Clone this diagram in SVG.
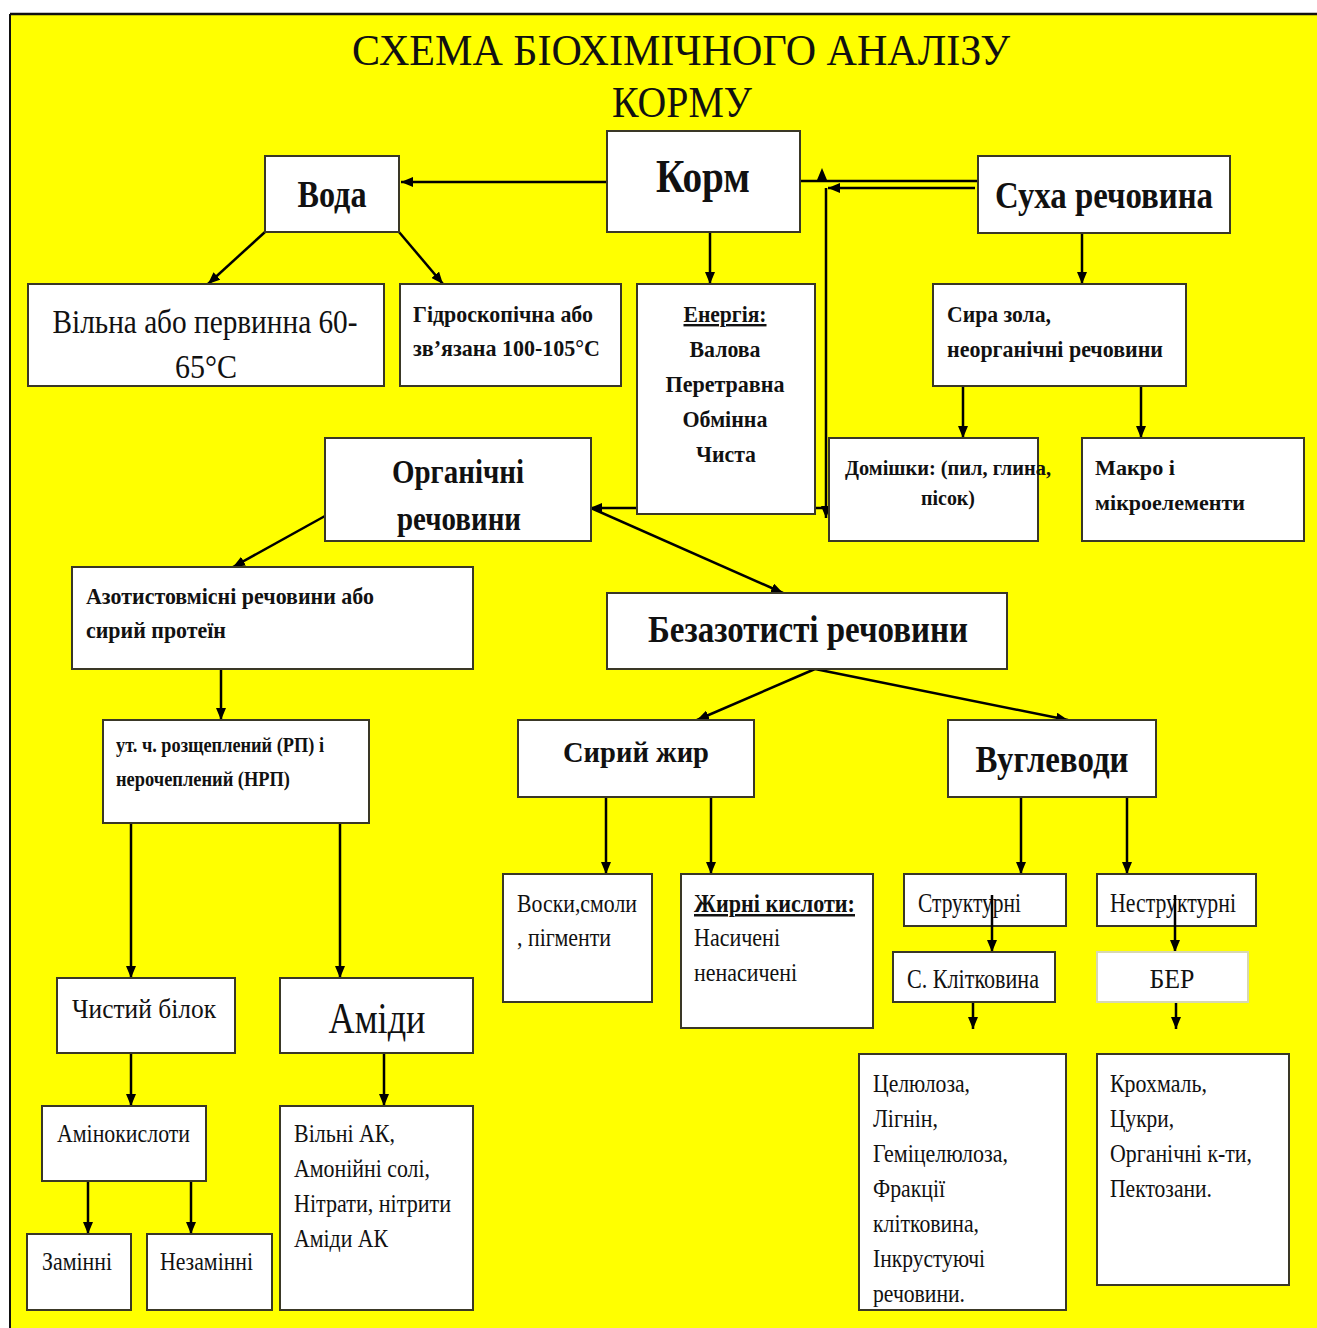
<svg xmlns="http://www.w3.org/2000/svg" width="1317" height="1328" viewBox="0 0 1317 1328">
<style>
.bx{fill:#fff;stroke:#3a3826;stroke-width:2}
.t{font-family:"Liberation Serif","Times New Roman",serif;fill:#111}
.b{font-weight:bold}
.ln{fill:none;stroke:#000;stroke-width:2.5}
</style>
<defs>
<marker id="ah" viewBox="0 0 12 10" refX="12" refY="5" markerWidth="12" markerHeight="10" orient="auto" markerUnits="userSpaceOnUse"><path d="M0,0 L12,5 L0,10 z" fill="#000"/></marker>
</defs>
<rect x="0" y="0" width="1317" height="1328" fill="#fff"/>
<rect x="10" y="14" width="1307" height="1314" fill="#ffff00"/>
<line x1="10" y1="14" x2="1317" y2="14" stroke="#111" stroke-width="2.5"/>
<line x1="10" y1="14" x2="10" y2="1328" stroke="#111" stroke-width="2"/>
<g id="title">
<text class="t" x="681" y="65" font-size="44" text-anchor="middle" textLength="658" lengthAdjust="spacingAndGlyphs">СХЕМА БІОХІМІЧНОГО АНАЛІЗУ</text>
<text class="t" x="682" y="117" font-size="44" text-anchor="middle" textLength="140" lengthAdjust="spacingAndGlyphs">КОРМУ</text>
</g>
<g id="connectors">
<path class="ln" d="M607,182 L401,182" marker-end="url(#ah)"/>
<path class="ln" d="M800,181 L990,181" marker-end="url(#ah)"/>
<path class="ln" d="M975,188 L828,188" marker-end="url(#ah)"/>
<path class="ln" d="M826,188 L826,518" marker-end="url(#ah)"/>
<path class="ln" d="M826,508 L590,508" marker-end="url(#ah)"/>
<polygon points="822,168 817,180 827,180" fill="#000"/>
<path class="ln" d="M265,232 L208,284" marker-end="url(#ah)"/>
<path class="ln" d="M399,232 L443,284" marker-end="url(#ah)"/>
<path class="ln" d="M710,232 L710,284" marker-end="url(#ah)"/>
<path class="ln" d="M1082,233 L1082,284" marker-end="url(#ah)"/>
<path class="ln" d="M963,386 L963,438" marker-end="url(#ah)"/>
<path class="ln" d="M1141,386 L1141,438" marker-end="url(#ah)"/>
<path class="ln" d="M325,516 L233,567" marker-end="url(#ah)"/>
<path class="ln" d="M591,508 L783,593" marker-end="url(#ah)"/>
<path class="ln" d="M221,669 L221,720" marker-end="url(#ah)"/>
<path class="ln" d="M815,669 L697,720" marker-end="url(#ah)"/>
<path class="ln" d="M815,669 L1068,720" marker-end="url(#ah)"/>
<path class="ln" d="M606,797 L606,874" marker-end="url(#ah)"/>
<path class="ln" d="M711,797 L711,874" marker-end="url(#ah)"/>
<path class="ln" d="M1021,797 L1021,874" marker-end="url(#ah)"/>
<path class="ln" d="M1127,797 L1127,874" marker-end="url(#ah)"/>
<path class="ln" d="M131,823 L131,978" marker-end="url(#ah)"/>
<path class="ln" d="M340,823 L340,978" marker-end="url(#ah)"/>
<path class="ln" d="M131,1053 L131,1106" marker-end="url(#ah)"/>
<path class="ln" d="M384,1053 L384,1106" marker-end="url(#ah)"/>
<path class="ln" d="M88,1181 L88,1234" marker-end="url(#ah)"/>
<path class="ln" d="M191,1181 L191,1234" marker-end="url(#ah)"/>
</g>
<g id="n-korm"><rect class="bx" x="607" y="131" width="193" height="101"/><text class="t b" x="703" y="192" font-size="46" text-anchor="middle" textLength="94" lengthAdjust="spacingAndGlyphs">Корм</text></g>
<g id="n-voda"><rect class="bx" x="265" y="156" width="134" height="76"/><text class="t b" x="332" y="207" font-size="38" text-anchor="middle" textLength="69" lengthAdjust="spacingAndGlyphs">Вода</text></g>
<g id="n-sukha"><rect class="bx" x="978" y="156" width="252" height="77"/><text class="t b" x="1104" y="208" font-size="38" text-anchor="middle" textLength="218" lengthAdjust="spacingAndGlyphs">Суха речовина</text></g>
<g id="n-vilna"><rect class="bx" x="28" y="284" width="356" height="102"/>
<text class="t" x="205" y="333" font-size="33" text-anchor="middle" textLength="305" lengthAdjust="spacingAndGlyphs">Вільна або первинна 60-</text>
<text class="t" x="206" y="378" font-size="33" text-anchor="middle" textLength="62" lengthAdjust="spacingAndGlyphs">65°C</text></g>
<g id="n-gidro"><rect class="bx" x="400" y="284" width="221" height="102"/>
<text class="t b" x="413" y="322" font-size="24" textLength="180" lengthAdjust="spacingAndGlyphs">Гідроскопічна або</text>
<text class="t b" x="413" y="356" font-size="24" textLength="187" lengthAdjust="spacingAndGlyphs">зв’язана 100-105°C</text></g>
<g id="n-energy"><rect class="bx" x="637" y="284" width="178" height="230"/>
<text class="t b" x="725" y="322" font-size="24" text-anchor="middle" text-decoration="underline" textLength="83" lengthAdjust="spacingAndGlyphs">Енергія:</text>
<text class="t b" x="725" y="357" font-size="24" text-anchor="middle" textLength="71" lengthAdjust="spacingAndGlyphs">Валова</text>
<text class="t b" x="725" y="392" font-size="24" text-anchor="middle" textLength="119" lengthAdjust="spacingAndGlyphs">Перетравна</text>
<text class="t b" x="725" y="427" font-size="24" text-anchor="middle" textLength="85" lengthAdjust="spacingAndGlyphs">Обмінна</text>
<text class="t b" x="726" y="462" font-size="24" text-anchor="middle" textLength="60" lengthAdjust="spacingAndGlyphs">Чиста</text></g>
<g id="n-zola"><rect class="bx" x="933" y="284" width="253" height="102"/>
<text class="t b" x="947" y="322" font-size="24" textLength="104" lengthAdjust="spacingAndGlyphs">Сира зола,</text>
<text class="t b" x="947" y="357" font-size="24" textLength="216" lengthAdjust="spacingAndGlyphs">неорганічні речовини</text></g>
<g id="n-organ"><rect class="bx" x="325" y="438" width="266" height="103"/>
<text class="t b" x="458" y="483" font-size="33" text-anchor="middle" textLength="132" lengthAdjust="spacingAndGlyphs">Органічні</text>
<text class="t b" x="459" y="530" font-size="33" text-anchor="middle" textLength="124" lengthAdjust="spacingAndGlyphs">речовини</text></g>
<g id="n-domishky"><rect class="bx" x="829" y="438" width="209" height="103"/>
<text class="t b" x="948" y="475" font-size="22" text-anchor="middle" textLength="206" lengthAdjust="spacingAndGlyphs">Домішки: (пил, глина,</text>
<text class="t b" x="948" y="505" font-size="22" text-anchor="middle" textLength="54" lengthAdjust="spacingAndGlyphs">пісок)</text></g>
<g id="n-makro"><rect class="bx" x="1082" y="438" width="222" height="103"/>
<text class="t b" x="1095" y="475" font-size="22" textLength="80" lengthAdjust="spacingAndGlyphs">Макро і</text>
<text class="t b" x="1095" y="510" font-size="22" textLength="150" lengthAdjust="spacingAndGlyphs">мікроелементи</text></g>
<g id="n-azot"><rect class="bx" x="72" y="567" width="401" height="102"/>
<text class="t b" x="86" y="604" font-size="23" textLength="288" lengthAdjust="spacingAndGlyphs">Азотистовмісні речовини або</text>
<text class="t b" x="86" y="638" font-size="23" textLength="140" lengthAdjust="spacingAndGlyphs">сирий протеїн</text></g>
<g id="n-bezazot"><rect class="bx" x="607" y="593" width="400" height="76"/>
<text class="t b" x="808" y="642" font-size="38" text-anchor="middle" textLength="320" lengthAdjust="spacingAndGlyphs">Безазотисті речовини</text></g>
<g id="n-ut"><rect class="bx" x="103" y="720" width="266" height="103"/>
<text class="t b" x="116" y="752" font-size="20" textLength="208" lengthAdjust="spacingAndGlyphs">ут. ч. розщеплений (РП) і</text>
<text class="t b" x="116" y="786" font-size="20" textLength="174" lengthAdjust="spacingAndGlyphs">нерочеплений (НРП)</text></g>
<g id="n-zhyr"><rect class="bx" x="518" y="720" width="236" height="77"/>
<text class="t b" x="636" y="762" font-size="30" text-anchor="middle" textLength="146" lengthAdjust="spacingAndGlyphs">Сирий жир</text></g>
<g id="n-vuhl"><rect class="bx" x="948" y="720" width="208" height="77"/>
<text class="t b" x="1052" y="772" font-size="38" text-anchor="middle" textLength="153" lengthAdjust="spacingAndGlyphs">Вуглеводи</text></g>
<g id="n-vosky"><rect class="bx" x="503" y="874" width="149" height="128"/>
<text class="t" x="517" y="912" font-size="25" textLength="120" lengthAdjust="spacingAndGlyphs">Воски,смоли</text>
<text class="t" x="517" y="946" font-size="25" textLength="94" lengthAdjust="spacingAndGlyphs">, пігменти</text></g>
<g id="n-kysloty"><rect class="bx" x="681" y="874" width="192" height="154"/>
<text class="t b" x="694" y="912" font-size="25" text-decoration="underline" textLength="161" lengthAdjust="spacingAndGlyphs">Жирні кислоти:</text>
<text class="t" x="694" y="946" font-size="25" textLength="86" lengthAdjust="spacingAndGlyphs">Насичені</text>
<text class="t" x="694" y="981" font-size="25" textLength="103" lengthAdjust="spacingAndGlyphs">ненасичені</text></g>
<g id="n-struct"><rect class="bx" x="904" y="874" width="162" height="52"/>
<text class="t" x="918" y="912" font-size="27" textLength="103" lengthAdjust="spacingAndGlyphs">Структурні</text></g>
<g id="n-nestruct"><rect class="bx" x="1097" y="874" width="159" height="52"/>
<text class="t" x="1110" y="912" font-size="27" textLength="126" lengthAdjust="spacingAndGlyphs">Неструктурні</text></g>
<g id="connectors-inner">
<path class="ln" d="M992,895 L992,952" marker-end="url(#ah)"/>
<path class="ln" d="M1175,895 L1175,952" marker-end="url(#ah)"/>
<path class="ln" d="M973,1002 L973,1029" marker-end="url(#ah)"/>
<path class="ln" d="M1176,1002 L1176,1029" marker-end="url(#ah)"/>
</g>
<g id="n-klitk"><rect class="bx" x="893" y="952" width="162" height="50"/>
<text class="t" x="973" y="988" font-size="27" text-anchor="middle" textLength="132" lengthAdjust="spacingAndGlyphs">С. Клітковина</text></g>
<g id="n-ber"><rect x="1097" y="952" width="151" height="50" fill="#fff" stroke="#d8d8b0" stroke-width="2"/>
<text class="t" x="1172" y="988" font-size="27" text-anchor="middle" textLength="45" lengthAdjust="spacingAndGlyphs">БЕР</text></g>
<g id="n-cel"><rect class="bx" x="859" y="1054" width="207" height="256"/>
<text class="t" x="873" y="1092" font-size="25" textLength="97" lengthAdjust="spacingAndGlyphs">Целюлоза,</text>
<text class="t" x="873" y="1127" font-size="25" textLength="65" lengthAdjust="spacingAndGlyphs">Лігнін,</text>
<text class="t" x="873" y="1162" font-size="25" textLength="135" lengthAdjust="spacingAndGlyphs">Геміцелюлоза,</text>
<text class="t" x="873" y="1197" font-size="25" textLength="72" lengthAdjust="spacingAndGlyphs">Фракції</text>
<text class="t" x="873" y="1232" font-size="25" textLength="106" lengthAdjust="spacingAndGlyphs">клітковина,</text>
<text class="t" x="873" y="1267" font-size="25" textLength="112" lengthAdjust="spacingAndGlyphs">Інкрустуючі</text>
<text class="t" x="873" y="1302" font-size="25" textLength="92" lengthAdjust="spacingAndGlyphs">речовини.</text></g>
<g id="n-krokh"><rect class="bx" x="1097" y="1054" width="192" height="231"/>
<text class="t" x="1110" y="1092" font-size="25" textLength="97" lengthAdjust="spacingAndGlyphs">Крохмаль,</text>
<text class="t" x="1110" y="1127" font-size="25" textLength="64" lengthAdjust="spacingAndGlyphs">Цукри,</text>
<text class="t" x="1110" y="1162" font-size="25" textLength="142" lengthAdjust="spacingAndGlyphs">Органічні к-ти,</text>
<text class="t" x="1110" y="1197" font-size="25" textLength="102" lengthAdjust="spacingAndGlyphs">Пектозани.</text></g>
<g id="n-bilok"><rect class="bx" x="57" y="978" width="178" height="75"/>
<text class="t" x="72" y="1018" font-size="27" textLength="144" lengthAdjust="spacingAndGlyphs">Чистий білок</text></g>
<g id="n-amidy"><rect class="bx" x="280" y="978" width="193" height="75"/>
<text class="t" x="377" y="1033" font-size="44" text-anchor="middle" textLength="97" lengthAdjust="spacingAndGlyphs">Аміди</text></g>
<g id="n-amino"><rect class="bx" x="42" y="1106" width="164" height="75"/>
<text class="t" x="57" y="1142" font-size="25" textLength="133" lengthAdjust="spacingAndGlyphs">Амінокислоти</text></g>
<g id="n-vilniak"><rect class="bx" x="280" y="1106" width="193" height="204"/>
<text class="t" x="294" y="1142" font-size="25" textLength="101" lengthAdjust="spacingAndGlyphs">Вільні АК,</text>
<text class="t" x="294" y="1177" font-size="25" textLength="136" lengthAdjust="spacingAndGlyphs">Амонійні солі,</text>
<text class="t" x="294" y="1212" font-size="25" textLength="157" lengthAdjust="spacingAndGlyphs">Нітрати, нітрити</text>
<text class="t" x="294" y="1247" font-size="25" textLength="94" lengthAdjust="spacingAndGlyphs">Аміди АК</text></g>
<g id="n-zaminni"><rect class="bx" x="27" y="1234" width="104" height="76"/>
<text class="t" x="42" y="1270" font-size="25" textLength="70" lengthAdjust="spacingAndGlyphs">Замінні</text></g>
<g id="n-nezaminni"><rect class="bx" x="147" y="1234" width="125" height="76"/>
<text class="t" x="160" y="1270" font-size="25" textLength="93" lengthAdjust="spacingAndGlyphs">Незамінні</text></g>
</svg>
